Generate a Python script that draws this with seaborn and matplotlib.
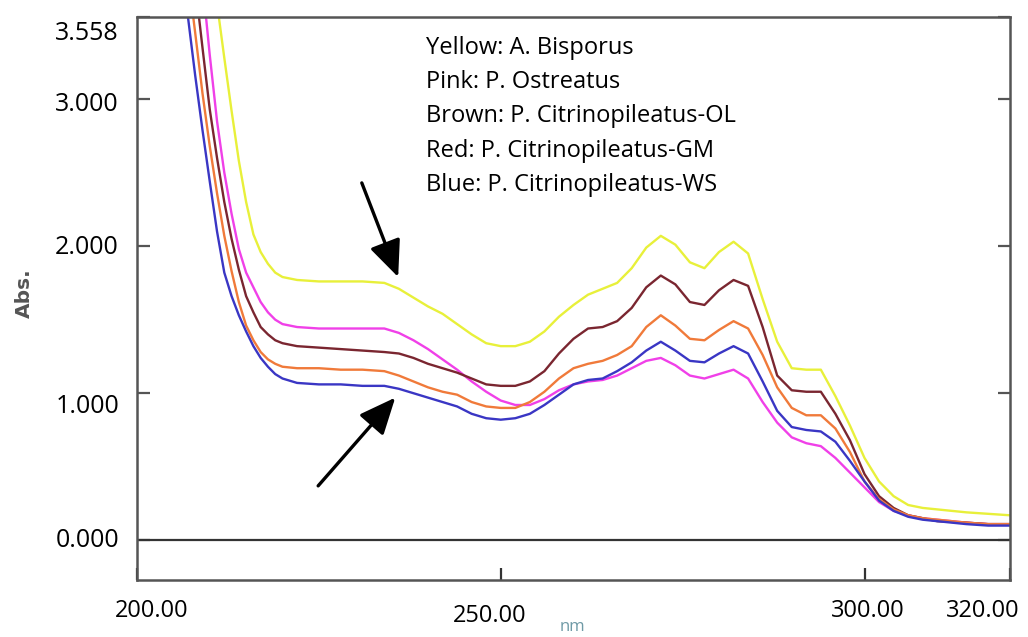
import numpy as np
import pandas as pd
import matplotlib
matplotlib.use("Agg")
import matplotlib.pyplot as plt
import matplotlib.transforms as mtransforms
import seaborn as sns

# ---------------- data ----------------
wavelength = [205, 206, 207, 208, 209, 210, 211, 212, 213, 214, 215, 216, 217, 218, 219,
              220, 222, 225, 228, 231, 234, 236, 238, 240, 242, 244, 246, 248, 250, 252,
              254, 256, 258, 260, 262, 264, 266, 268, 270, 272, 274, 276, 278, 280, 282,
              284, 286, 288, 290, 292, 294, 296, 298, 300, 302, 304, 306, 308, 310, 314,
              317, 320]

yellow_bisporus = [6.5, 6.0, 5.5, 5.0, 4.5, 4.1, 3.65, 3.28, 2.92, 2.58, 2.30, 2.08, 1.96, 1.88, 1.82,
                   1.79, 1.77, 1.76, 1.76, 1.76, 1.75, 1.71, 1.65, 1.59, 1.54, 1.47, 1.40, 1.34, 1.32, 1.32,
                   1.35, 1.42, 1.52, 1.60, 1.67, 1.71, 1.75, 1.85, 1.99, 2.07, 2.01, 1.89, 1.85, 1.96, 2.03,
                   1.95, 1.64, 1.35, 1.17, 1.16, 1.16, 0.98, 0.78, 0.56, 0.40, 0.30, 0.24, 0.22, 0.21, 0.19,
                   0.18, 0.17]

pink_ostreatus = [5.8, 5.2, 4.7, 4.25, 3.8, 3.3, 2.85, 2.5, 2.22, 1.98, 1.82, 1.72, 1.62, 1.55, 1.50,
                  1.47, 1.45, 1.44, 1.44, 1.44, 1.44, 1.41, 1.36, 1.30, 1.23, 1.16, 1.08, 1.01, 0.95, 0.92,
                  0.92, 0.96, 1.02, 1.06, 1.08, 1.09, 1.12, 1.17, 1.22, 1.24, 1.19, 1.12, 1.10, 1.13, 1.16,
                  1.10, 0.94, 0.80, 0.70, 0.66, 0.64, 0.56, 0.46, 0.36, 0.26, 0.20, 0.17, 0.15, 0.14, 0.12,
                  0.11, 0.11]

brown_citrino_ol = [5.3, 4.8, 4.25, 3.78, 3.35, 2.93, 2.60, 2.30, 2.05, 1.84, 1.66, 1.55, 1.45, 1.40, 1.36,
                    1.34, 1.32, 1.31, 1.30, 1.29, 1.28, 1.27, 1.24, 1.20, 1.17, 1.14, 1.10, 1.06, 1.05, 1.05,
                    1.08, 1.15, 1.27, 1.37, 1.44, 1.45, 1.49, 1.58, 1.72, 1.80, 1.74, 1.62, 1.60, 1.70, 1.77,
                    1.73, 1.45, 1.12, 1.02, 1.01, 1.01, 0.86, 0.68, 0.45, 0.30, 0.22, 0.17, 0.15, 0.13, 0.12,
                    0.11, 0.11]

red_citrino_gm = [4.9, 4.4, 3.85, 3.45, 3.04, 2.68, 2.36, 2.07, 1.83, 1.62, 1.46, 1.36, 1.28, 1.23, 1.20,
                  1.18, 1.17, 1.17, 1.16, 1.16, 1.15, 1.12, 1.08, 1.04, 1.01, 0.99, 0.94, 0.91, 0.90, 0.90,
                  0.94, 1.01, 1.10, 1.17, 1.20, 1.22, 1.26, 1.32, 1.45, 1.53, 1.46, 1.37, 1.36, 1.43, 1.49,
                  1.44, 1.26, 1.04, 0.90, 0.85, 0.85, 0.76, 0.60, 0.40, 0.28, 0.21, 0.17, 0.15, 0.14, 0.12,
                  0.11, 0.11]

blue_citrino_ws = [4.3, 3.95, 3.56, 3.16, 2.79, 2.44, 2.10, 1.82, 1.66, 1.53, 1.42, 1.32, 1.24, 1.18, 1.13,
                   1.10, 1.07, 1.06, 1.06, 1.05, 1.05, 1.03, 1.00, 0.97, 0.94, 0.91, 0.86, 0.83, 0.82, 0.83,
                   0.86, 0.92, 0.99, 1.06, 1.09, 1.10, 1.15, 1.21, 1.29, 1.35, 1.29, 1.22, 1.21, 1.27, 1.32,
                   1.27, 1.08, 0.88, 0.77, 0.75, 0.74, 0.67, 0.54, 0.40, 0.27, 0.20, 0.16, 0.14, 0.13, 0.11,
                   0.10, 0.10]

series_names = ["Yellow", "Pink", "Brown", "Red", "Blue"]
series_colors = ["#e8f03a", "#f040e8", "#7a2630", "#f07a3a", "#3a36c4"]

legend_lines = ["Yellow: A. Bisporus",
                "Pink: P. Ostreatus",
                "Brown: P. Citrinopileatus-OL",
                "Red: P. Citrinopileatus-GM",
                "Blue: P. Citrinopileatus-WS"]

y_ticks = [0.0, 1.0, 2.0, 3.0, 3.558]
y_tick_labels = ["0.000", "1.000", "2.000", "3.000", "3.558"]
x_ticks = [200, 250, 300, 320]
x_tick_labels = ["200.00", "250.00", "300.00", "320.00"]

# ---------------- build long table ----------------
all_values = [yellow_bisporus, pink_ostreatus, brown_citrino_ol, red_citrino_gm, blue_citrino_ws]
frames = []
for name, vals in zip(series_names, all_values):
    frames.append(pd.DataFrame({"wavelength": wavelength, "abs": vals, "sample": name}))
df = pd.concat(frames, ignore_index=True)

# ---------------- figure ----------------
sns.set_style("white")
plt.rcParams["font.family"] = ["Open Sans", "DejaVu Sans"]

fig = plt.figure(figsize=(10.28, 6.37), dpi=100)
ax = fig.add_axes([137 / 1028, 1 - 580 / 637, 873 / 1028, 563 / 637])

sns.lineplot(data=df, x="wavelength", y="abs", hue="sample",
             hue_order=series_names, palette=dict(zip(series_names, series_colors)),
             legend=False, linewidth=1.7, ax=ax, sort=False, estimator=None)

ax.set_xlim(200, 320)
ax.set_ylim(-0.27, 3.558)

ax.axhline(0, color="#333333", linewidth=1.6, zorder=1)

for sp in ax.spines.values():
    sp.set_color("#555555")
    sp.set_linewidth(1.8)

ax.set_xticks(x_ticks)
ax.set_xticklabels(x_tick_labels, fontsize=17)
ax.set_yticks(y_ticks)
ax.set_yticklabels(y_tick_labels, fontsize=18)
ax.tick_params(axis="x", direction="in", length=9, width=1.6, color="#333333", pad=14,
               bottom=True, top=False, labelcolor="black")
ax.tick_params(axis="y", direction="in", length=9, width=1.6, color="#555555", pad=13,
               left=True, right=True, labelcolor="black")
ax.set_xlabel("")
ax.set_ylabel("")

# nudge individual tick labels like the instrument printout
def nudge(label, dx_px, dy_px):
    off = mtransforms.ScaledTranslation(dx_px / 100, dy_px / 100, fig.dpi_scale_trans)
    label.set_transform(label.get_transform() + off)

xl = ax.get_xticklabels()
nudge(xl[0], 15, 0)
nudge(xl[1], -11, -5)
nudge(xl[2], 3, 0)
nudge(xl[3], -27, 0)
yl = ax.get_yticklabels()
nudge(yl[0], 0, 3)
nudge(yl[1], 0, -10)
nudge(yl[2], 0, 2)
nudge(yl[3], 0, -2)
nudge(yl[4], 0, -13)

# species key
for i, line in enumerate(legend_lines):
    ax.text(0.331, 0.945 - i * 0.0608, line, transform=ax.transAxes,
            fontsize=17, va="center", ha="left", color="black")

# arrows
arrow_kw = dict(arrowstyle="-|>,head_length=0.8,head_width=0.35", color="black", lw=2.4,
                mutation_scale=28, shrinkA=0, shrinkB=0)
ax.annotate("", xy=(235.9, 1.79), xytext=(230.9, 2.43), arrowprops=arrow_kw)
ax.annotate("", xy=(235.5, 0.97), xytext=(224.9, 0.37), arrowprops=arrow_kw)

# axis names as in the printout
fig.text(24 / 1028, 1 - 293 / 637, "Abs.", rotation=90, fontsize=14.5, fontweight="bold",
         color="#555555", ha="center", va="center", family="DejaVu Sans")
fig.text(572 / 1028, 1 - 627 / 637, "nm", fontsize=12, color="#6f9aa6",
         ha="center", va="center")

fig.savefig("out.png", dpi=100, facecolor="white")
